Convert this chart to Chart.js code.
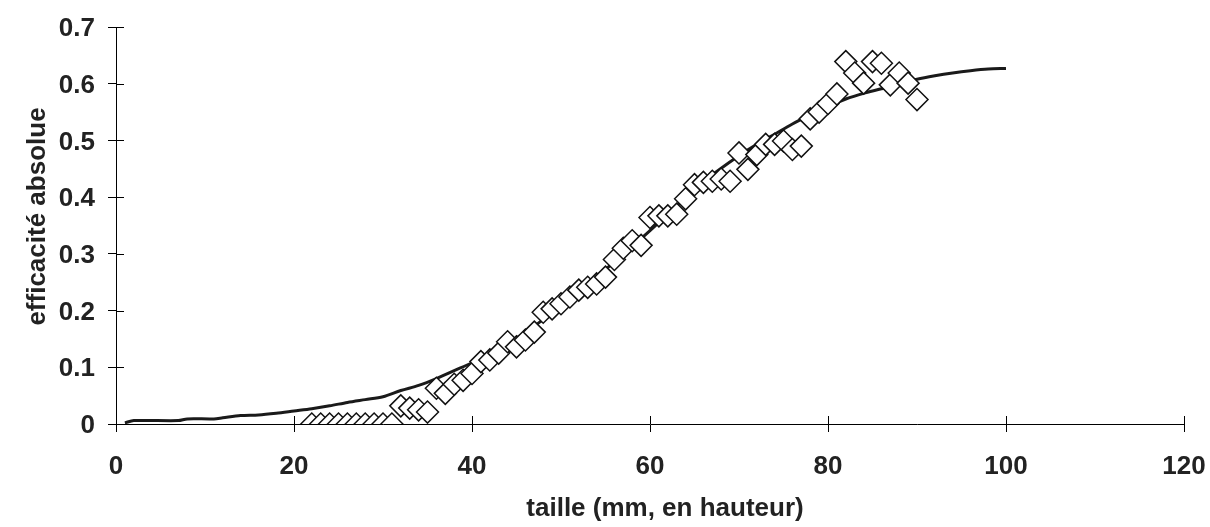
<!DOCTYPE html>
<html>
<head>
<meta charset="utf-8">
<script src="https://cdn.jsdelivr.net/npm/chart.js@4/dist/chart.umd.min.js"></script>
<style>
  html, body { margin: 0; padding: 0; background: #fff; }
  #wrap { width: 1210px; height: 527px; }
</style>
</head>
<body>
<div id="wrap"><canvas id="effChart"></canvas></div>
<script>
// observed points: taille (mm) vs efficacité absolue
const tailleObs = [22, 23, 24, 25, 26, 27, 28, 29, 30, 31,
  32, 33, 34, 35, 36, 37, 38, 39, 40, 41, 42, 43, 44, 45, 46, 47, 48, 49, 50,
  51, 52, 53, 54, 55, 56, 57, 58, 59, 60, 61, 62, 63, 64, 65, 66, 67, 68, 69, 70,
  71, 72, 73, 74, 75, 76, 77, 78, 79, 80, 81, 82, 83, 84, 85, 86, 87, 88, 89, 90];
const effObs = [0, 0, 0, 0, 0, 0, 0, 0, 0, 0,
  0.032, 0.028, 0.025, 0.021, 0.063, 0.054, 0.070, 0.077, 0.089, 0.110, 0.113, 0.125, 0.145, 0.136, 0.148, 0.162, 0.197, 0.203, 0.212,
  0.224, 0.236, 0.241, 0.247, 0.259, 0.290, 0.310, 0.323, 0.315, 0.364, 0.367, 0.367, 0.370, 0.397, 0.422, 0.426, 0.428, 0.432, 0.428, 0.478,
  0.449, 0.475, 0.493, 0.493, 0.499, 0.484, 0.490, 0.538, 0.550, 0.565, 0.582, 0.639, 0.619, 0.601, 0.639, 0.636, 0.598, 0.619, 0.601, 0.572];

// fitted curve
const tailleFit = [1, 2, 7, 8, 11, 12, 14, 16, 18, 20, 22, 24, 26, 28, 30, 32, 34, 36, 38, 40,
  42, 44, 46, 48, 50, 52, 54, 56, 58, 60, 62, 64, 66, 68, 70, 72, 74, 76, 78, 80,
  82, 84, 86, 88, 90, 92, 94, 96, 98, 100];
const effFit = [0.002, 0.006, 0.006, 0.009, 0.009, 0.011, 0.015, 0.016, 0.019, 0.023, 0.027, 0.032, 0.038, 0.043, 0.048, 0.059, 0.068, 0.080, 0.094, 0.108,
  0.124, 0.142, 0.162, 0.184, 0.208, 0.233, 0.259, 0.286, 0.313, 0.341, 0.370, 0.400, 0.427, 0.451, 0.473, 0.493, 0.511, 0.529, 0.545, 0.560,
  0.573, 0.583, 0.591, 0.600, 0.608, 0.614, 0.619, 0.623, 0.626, 0.627];

const xTicks = [0, 20, 40, 60, 80, 100, 120];
const yTicks = [0, 0.1, 0.2, 0.3, 0.4, 0.5, 0.6, 0.7];
const xTitle = 'taille (mm, en hauteur)';
const yTitle = 'efficacité absolue';

const FONT = 'Liberation Sans, Arial, sans-serif';
const INK = '#222';

// excel-style tick marks crossing the axis line, plus the axis titles
const axisExtras = {
  id: 'axisExtras',
  afterDraw(chart) {
    const c = chart.ctx;
    const xs = chart.scales.x, ys = chart.scales.y;
    const area = chart.chartArea;
    c.save();
    c.strokeStyle = '#000';
    c.lineWidth = 1;
    c.beginPath();
    xTicks.forEach(v => {
      const px = Math.round(xs.getPixelForValue(v)) + 0.5;
      c.moveTo(px, ys.bottom);
      c.lineTo(px, ys.bottom - 8);
    });
    yTicks.forEach(v => {
      const py = Math.round(ys.getPixelForValue(v)) + 0.5;
      c.moveTo(xs.left, py);
      c.lineTo(xs.left + 8, py);
    });
    c.stroke();

    c.fillStyle = INK;
    c.font = 'bold 26px ' + FONT;
    c.textAlign = 'center';
    c.textBaseline = 'alphabetic';
    c.fillText(xTitle, (area.left + area.right) / 2 + 15, 516);
    c.translate(45, (area.top + area.bottom) / 2 - 9);
    c.rotate(-Math.PI / 2);
    c.fillText(yTitle, 0, 0);
    c.restore();
  }
};

new Chart(document.getElementById('effChart'), {
  type: 'scatter',
  data: {
    datasets: [{
      label: 'observé',
      data: tailleObs.map((x, i) => ({ x: x, y: effObs[i] })),
      pointStyle: 'rectRot',
      pointRadius: 11,
      pointBorderWidth: 1.5,
      pointBackgroundColor: '#fff',
      pointBorderColor: '#111',
      showLine: false,
      order: 0
    }, {
      label: 'modèle',
      data: tailleFit.map((x, i) => ({ x: x, y: effFit[i] })),
      showLine: true,
      borderColor: '#1a1a1a',
      borderWidth: 3,
      pointRadius: 0,
      tension: 0.3,
      order: 1
    }]
  },
  options: {
    responsive: true,
    maintainAspectRatio: false,
    animation: false,
    layout: { padding: { top: 27, right: 26, left: 0, bottom: 0 } },
    plugins: { legend: { display: false }, tooltip: { enabled: false } },
    scales: {
      x: {
        type: 'linear', min: 0, max: 120,
        afterFit: s => { s.height = 103; s.paddingLeft = 0; s.paddingRight = 0; },
        afterBuildTicks: s => { s.ticks = xTicks.map(v => ({ value: v })); },
        border: { display: true, color: '#000', width: 1 },
        grid: { drawOnChartArea: false, tickLength: 8, color: '#000' },
        ticks: { color: INK, padding: 19, maxRotation: 0, font: { family: FONT, size: 26, weight: 'bold' } }
      },
      y: {
        type: 'linear', min: 0, max: 0.7,
        afterFit: s => { s.width = 116; s.paddingTop = 0; s.paddingBottom = 0; },
        afterBuildTicks: s => { s.ticks = yTicks.map(v => ({ value: v })); },
        border: { display: true, color: '#000', width: 1 },
        grid: { drawOnChartArea: false, tickLength: 8, color: '#000' },
        ticks: {
          color: INK, padding: 13, labelOffset: 2,
          font: { family: FONT, size: 26, weight: 'bold' },
          callback: v => v === 0 ? '0' : v.toFixed(1)
        }
      }
    }
  },
  plugins: [axisExtras]
});
</script>
</body>
</html>
